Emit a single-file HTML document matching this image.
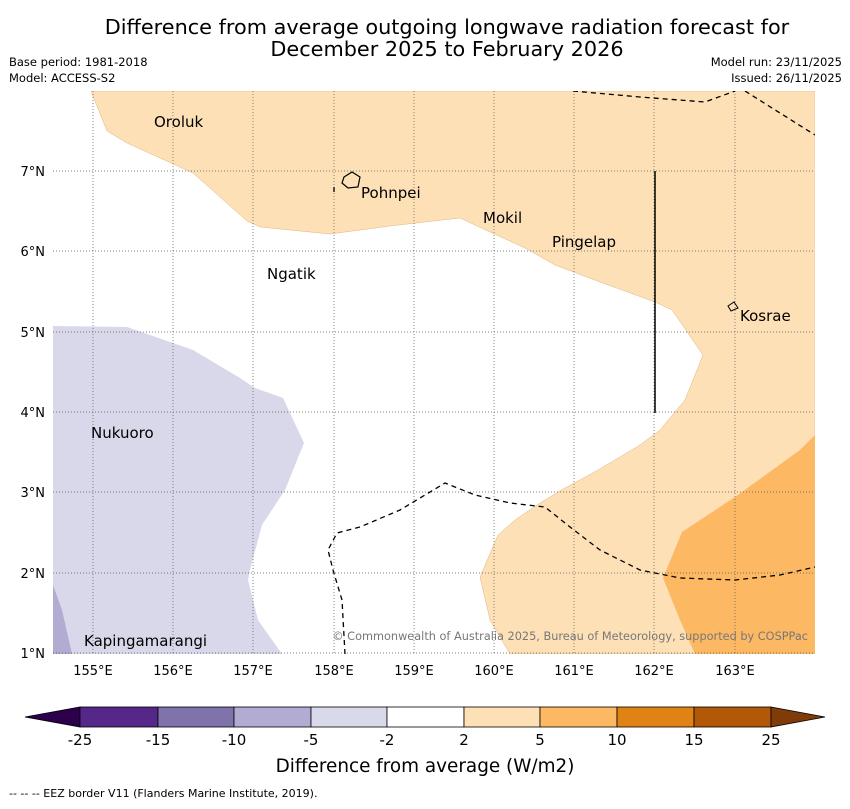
<!DOCTYPE html>
<html><head><meta charset="utf-8"><style>
body{margin:0;background:#fff;width:850px;height:804px;overflow:hidden;font-family:"Liberation Sans","DejaVu Sans",sans-serif}
</style></head><body>
<svg width="850" height="804" xmlns="http://www.w3.org/2000/svg" font-family="DejaVu Sans, Liberation Sans, sans-serif">
<text x="447" y="34" font-size="20.8" text-anchor="middle">Difference from average outgoing longwave radiation forecast for</text>
<text x="447" y="56" font-size="20.8" text-anchor="middle">December 2025 to February 2026</text>
<text x="9" y="66" font-size="11.5">Base period: 1981-2018</text>
<text x="9" y="82" font-size="11.5">Model: ACCESS-S2</text>
<text x="842" y="66" font-size="11.5" text-anchor="end">Model run: 23/11/2025</text>
<text x="842" y="82" font-size="11.5" text-anchor="end">Issued: 26/11/2025</text>
<defs><clipPath id="mc"><rect x="53" y="91" width="762" height="563"/></clipPath></defs>
<g clip-path="url(#mc)">
<rect x="53" y="91" width="762" height="563" fill="#fff"/>
<path fill="#fde0b6" stroke="#d9a66a" stroke-width="0.4" d="M91,91 L107,131 L127,143 L193,173 L247,221 L260,227 L330,234 L390,226 L460,218 L490,232 L525,248 L555,265 L600,282 L655,302 L672,310 L703,355 L685,400 L660,430 L640,445 L598,470 L565,488 L540,503 L515,520 L498,535 L480,577 L490,620 L510,654 L815,654 L815,91 Z"/>
<path fill="#fdb863" d="M815,435 L800,450 L735,497 L682,532 L663,578 L680,620 L695,654 L815,654 Z"/>
<path fill="#d8d8ea" d="M53,326 L127,327 L193,350 L240,378 L255,388 L283,398 L304,443 L285,490 L262,525 L250,570 L248,580 L258,620 L282,654 L53,654 Z"/>
<path fill="#b2abd2" d="M53,585 L62,610 L72,654 L53,654 Z"/>
<g stroke="#555" stroke-width="0.7" stroke-dasharray="1,2">
<line x1="93" y1="91" x2="93" y2="654"/><line x1="173" y1="91" x2="173" y2="654"/><line x1="253" y1="91" x2="253" y2="654"/><line x1="334" y1="91" x2="334" y2="654"/><line x1="414" y1="91" x2="414" y2="654"/><line x1="494" y1="91" x2="494" y2="654"/><line x1="574" y1="91" x2="574" y2="654"/><line x1="654" y1="91" x2="654" y2="654"/><line x1="735" y1="91" x2="735" y2="654"/>
<line x1="53" y1="171" x2="815" y2="171"/><line x1="53" y1="251" x2="815" y2="251"/><line x1="53" y1="332" x2="815" y2="332"/><line x1="53" y1="412" x2="815" y2="412"/><line x1="53" y1="492" x2="815" y2="492"/><line x1="53" y1="573" x2="815" y2="573"/><line x1="53" y1="653" x2="815" y2="653"/>
</g>
<g fill="none" stroke="#000" stroke-width="1.3" stroke-dasharray="5,4">
<path d="M573,91 L640,97 L705,102 L735,91"/>
<path d="M745,91 L815,135"/>
<path d="M345,654 L342,600 L333,570 L328,550 L337,533 L360,527 L400,510 L425,495 L445,483 L475,495 L510,503 L545,507 L570,527 L600,550 L640,570 L680,578 L735,580 L780,575 L815,567"/>
<path d="M334,192 L334,185"/>
</g>
<line x1="655" y1="171" x2="655" y2="413" stroke="#000" stroke-width="1.5"/>
<path d="M344,177 L352,172 L360,177 L358,187 L348,188 L342,183 Z" fill="none" stroke="#000" stroke-width="1.2"/>
<path d="M728,306 L734,302 L738,308 L731,311 Z" fill="none" stroke="#000" stroke-width="1"/>
<g font-size="15" fill="#000">
<text x="154" y="127">Oroluk</text>
<text x="361" y="198">Pohnpei</text>
<text x="483" y="223">Mokil</text>
<text x="552" y="247">Pingelap</text>
<text x="267" y="279">Ngatik</text>
<text x="740" y="321">Kosrae</text>
<text x="91" y="438">Nukuoro</text>
<text x="84" y="646">Kapingamarangi</text>
</g>
<text x="808" y="640" font-size="11.3" fill="#777" text-anchor="end">© Commonwealth of Australia 2025, Bureau of Meteorology, supported by COSPPac</text>
</g>
<g font-size="13" fill="#000">
<text x="45" y="176" text-anchor="end">7°N</text><text x="45" y="256" text-anchor="end">6°N</text><text x="45" y="337" text-anchor="end">5°N</text><text x="45" y="417" text-anchor="end">4°N</text><text x="45" y="497" text-anchor="end">3°N</text><text x="45" y="578" text-anchor="end">2°N</text><text x="45" y="658" text-anchor="end">1°N</text>
</g>
<g font-size="13" fill="#000" text-anchor="middle">
<text x="93" y="675">155°E</text><text x="173" y="675">156°E</text><text x="253" y="675">157°E</text><text x="334" y="675">158°E</text><text x="414" y="675">159°E</text><text x="494" y="675">160°E</text><text x="574" y="675">161°E</text><text x="654" y="675">162°E</text><text x="735" y="675">163°E</text>
</g>
<g stroke="#000" stroke-width="0.8">
<polygon points="25,717 80,707 80,727" fill="#2d004b"/>
<rect x="80" y="707" width="78" height="20" fill="#542788"/>
<rect x="158" y="707" width="76" height="20" fill="#8073ac"/>
<rect x="234" y="707" width="77" height="20" fill="#b2abd2"/>
<rect x="311" y="707" width="76" height="20" fill="#d8daeb"/>
<rect x="387" y="707" width="77" height="20" fill="#ffffff"/>
<rect x="464" y="707" width="76" height="20" fill="#fee0b6"/>
<rect x="540" y="707" width="77" height="20" fill="#fdb863"/>
<rect x="617" y="707" width="77" height="20" fill="#e08214"/>
<rect x="694" y="707" width="77" height="20" fill="#b35806"/>
<polygon points="771,707 825,717 771,727" fill="#7f3b08"/>
</g>
<g font-size="15" text-anchor="middle">
<text x="80" y="745">-25</text><text x="158" y="745">-15</text><text x="234" y="745">-10</text><text x="311" y="745">-5</text><text x="387" y="745">-2</text><text x="464" y="745">2</text><text x="540" y="745">5</text><text x="617" y="745">10</text><text x="694" y="745">15</text><text x="771" y="745">25</text>
</g>
<text x="425" y="772" font-size="18.4" text-anchor="middle">Difference from average (W/m2)</text>
<text x="9" y="797" font-size="11">--  --  -- EEZ border V11 (Flanders Marine Institute, 2019).</text>
</svg>
</body></html>
